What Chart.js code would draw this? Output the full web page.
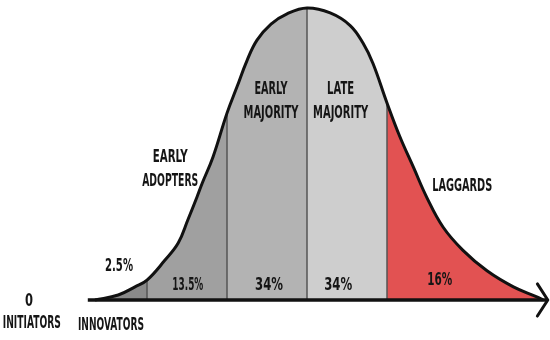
<!DOCTYPE html>
<html>
<head>
<meta charset="utf-8">
<script src="https://cdn.jsdelivr.net/npm/chart.js@4/dist/chart.umd.min.js"></script>
<style>
  body { margin: 0; background: #fff; }
  #wrap { width: 550px; height: 340px; }
</style>
</head>
<body>
<div id="wrap"><canvas id="grafico"></canvas></div>
<script>
// curve: x in standard deviations, y relative to the peak
const curveX = [-2.65, -2.36, -2.15, -2.0, -1.78, -1.61, -1.49, -1.375, -1.31, -1.175, -1.0, -0.875, -0.75, -0.625, -0.45, -0.25, 0, 0.29, 0.54, 0.7, 0.825, 1.0, 1.16, 1.33, 1.5, 1.7, 1.95, 2.25, 2.58, 2.88, 2.95];
const curveY = [0, 0.017, 0.045, 0.068, 0.135, 0.195, 0.274, 0.353, 0.40, 0.49, 0.64, 0.73, 0.82, 0.89, 0.945, 0.98, 1.0, 0.983, 0.94, 0.88, 0.81, 0.675, 0.56, 0.455, 0.35, 0.25, 0.17, 0.10, 0.045, 0.01, 0];

const boundaries = [-2, -1, 0, 1];
const groups = ['Innovators', 'Early adopters', 'Early majority', 'Late majority', 'Laggards'];
const groupColors = ['#8a8a8a', '#a0a0a0', '#b3b3b3', '#cecece', '#e25252'];

const axisStart = -2.74;
const axisEnd = 3.01;

// text labels, positioned in chart units
const labels = [
    { text: ['0'], x: -3.475, y: -0.007, w: 8 },
    { text: ['INITIATORS'], x: -3.44, y: -0.082, w: 58 },
    { text: ['INNOVATORS'], x: -2.45, y: -0.086, w: 66 },
    { text: ['2.5%'], x: -2.35, y: 0.116, w: 28 },
    { text: ['13.5%'], x: -1.49, y: 0.048, w: 31 },
    { text: ['34%'], x: -0.475, y: 0.048, w: 28 },
    { text: ['34%'], x: 0.39, y: 0.048, w: 28 },
    { text: ['16%'], x: 1.66, y: 0.068, w: 25 },
    { text: ['EARLY', 'ADOPTERS'], x: -1.71, y: 0.488, w: [35, 56] },
    { text: ['EARLY', 'MAJORITY'], x: -0.45, y: 0.72, w: [33, 55] },
    { text: ['LATE', 'MAJORITY'], x: 0.42, y: 0.72, w: [27, 55] },
    { text: ['LAGGARDS'], x: 1.94, y: 0.39, w: 60 }
];

const points = curveX.map((x, i) => ({ x: x, y: curveY[i] }));

function groupIndex(x) {
    let i = 0;
    while (i < boundaries.length && x >= boundaries[i]) i++;
    return i;
}

const datasets = [];

// coloured areas under the curve
datasets.push({
    data: points,
    borderWidth: 0,
    pointRadius: 0,
    tension: 0.4,
    fill: 'origin',
    backgroundColor: groupColors[0],
    segment: {
        backgroundColor: ctx => groupColors[groupIndex(ctx.p0.parsed.x)]
    },
    order: 3
});

// thin lines between groups
boundaries.forEach(b => {
    const h = curveY[curveX.indexOf(b)];
    datasets.push({
        data: [{ x: b, y: 0 }, { x: b, y: h }],
        borderColor: '#555555',
        borderWidth: 1.5,
        pointRadius: 0,
        fill: false,
        order: 2
    });
});

// black outline of the curve
datasets.push({
    data: points,
    borderColor: '#111111',
    borderWidth: 3,
    pointRadius: 0,
    tension: 0.4,
    fill: false,
    order: 1
});

// axis with arrow
datasets.push({
    data: [{ x: axisStart, y: 0 }, { x: axisEnd, y: 0 }],
    borderColor: '#111111',
    borderWidth: 3.5,
    pointRadius: 0,
    fill: false,
    order: 0
});
datasets.push({
    data: [{ x: axisEnd - 0.13, y: 0.055 }, { x: axisEnd, y: 0 }, { x: axisEnd - 0.13, y: -0.055 }],
    borderColor: '#111111',
    borderWidth: 3,
    borderCapStyle: 'round',
    borderJoinStyle: 'round',
    pointRadius: 0,
    fill: false,
    order: 0
});

const textPlugin = {
    id: 'textos',
    afterDraw(chart) {
        const ctx = chart.ctx;
        const sx = chart.scales.x;
        const sy = chart.scales.y;
        ctx.save();
        ctx.fillStyle = '#151515';
        ctx.textAlign = 'center';
        ctx.textBaseline = 'middle';
        ctx.font = 'bold 17px "Liberation Sans Narrow", "DejaVu Sans Condensed", sans-serif';
        labels.forEach(l => {
            const px = sx.getPixelForValue(l.x);
            const py = sy.getPixelForValue(l.y);
            l.text.forEach((t, i) => {
                const w = Array.isArray(l.w) ? l.w[i] : l.w;
                ctx.fillText(t, px, py + i * 24, w);
            });
        });
        ctx.restore();
    }
};

new Chart(document.getElementById('grafico'), {
    type: 'line',
    data: { datasets: datasets },
    options: {
        responsive: true,
        maintainAspectRatio: false,
        animation: false,
        layout: { padding: 0 },
        scales: {
            x: { type: 'linear', min: -3.8375, max: 3.0375, display: false },
            y: { min: -0.137, max: 1.0274, display: false }
        },
        plugins: {
            legend: { display: false },
            tooltip: { enabled: false }
        }
    },
    plugins: [textPlugin]
});
</script>
</body>
</html>
